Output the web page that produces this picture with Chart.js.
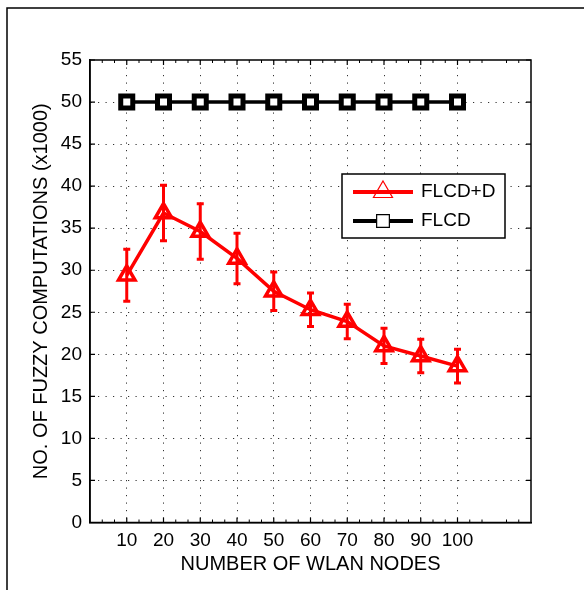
<!DOCTYPE html>
<html>
<head>
<meta charset="utf-8">
<script src="https://cdn.jsdelivr.net/npm/chart.js@4.4.1/dist/chart.umd.min.js"></script>
<style>
  html, body { margin: 0; padding: 0; background: #fff; }
  canvas { display: block; }
</style>
</head>
<body>
<canvas id="c" width="584" height="590"></canvas>
<script>
// ---- data ----
const nodes = [10, 20, 30, 40, 50, 60, 70, 80, 90, 100];
const flcdD = [29.4, 36.8, 34.6, 31.4, 27.5, 25.3, 23.9, 21.0, 19.8, 18.6];
const flcdDErr = [3.1, 3.3, 3.3, 3.0, 2.3, 2.0, 2.05, 2.1, 2.0, 2.0];
const flcd = [50, 50, 50, 50, 50, 50, 50, 50, 50, 50];
const xTicks = [10, 20, 30, 40, 50, 60, 70, 80, 90, 100];
const yTicks = [0, 5, 10, 15, 20, 25, 30, 35, 40, 45, 50, 55];
const seriesLabels = ['FLCD+D', 'FLCD'];
const xTitle = 'NUMBER OF WLAN NODES';
const yTitle = 'NO. OF FUZZY COMPUTATIONS (x1000)';

const FONT = "'Liberation Sans', Arial, Helvetica, sans-serif";
const RED = '#ff0000';

// error bar segments built from the arrays
const errSegments = [];
const errCaps = [];
nodes.forEach((x, i) => {
  const lo = flcdD[i] - flcdDErr[i], hi = flcdD[i] + flcdDErr[i];
  errSegments.push({x, y: lo}, {x, y: hi}, {x, y: null});
  errCaps.push({x, y: lo}, {x, y: hi});
});

const framePlugin = {
  id: 'frame',
  beforeDraw(chart) {
    const ctx = chart.ctx;
    ctx.save();
    ctx.fillStyle = '#fff';
    ctx.fillRect(0, 0, chart.width, chart.height);
    ctx.strokeStyle = '#000';
    ctx.lineWidth = 1.5;
    ctx.beginPath();
    ctx.moveTo(7, chart.height);
    ctx.lineTo(7, 8);
    ctx.lineTo(chart.width, 8);
    ctx.stroke();
    ctx.restore();
  },
  afterDraw(chart) {
    const ctx = chart.ctx;
    const {left, right, top, bottom} = chart.chartArea;
    const xs = chart.scales.x, ys = chart.scales.y;
    ctx.save();
    ctx.setLineDash([]);
    ctx.strokeStyle = '#000';
    ctx.lineWidth = 1.2;
    ctx.beginPath();
    // major ticks inward
    xTicks.forEach(v => {
      const px = xs.getPixelForValue(v);
      ctx.moveTo(px, bottom); ctx.lineTo(px, bottom - 5);
      ctx.moveTo(px, top); ctx.lineTo(px, top + 5);
    });
    yTicks.forEach(v => {
      const py = ys.getPixelForValue(v);
      ctx.moveTo(left, py); ctx.lineTo(left + 5, py);
      ctx.moveTo(right, py); ctx.lineTo(right - 5, py);
    });
    ctx.stroke();
    // minor ticks on x
    ctx.lineWidth = 1;
    ctx.beginPath();
    for (let k = 1; k < 36; k++) {
      if (k % 3 === 0) continue;
      const px = xs.getPixelForValue(k * 10 / 3);
      ctx.moveTo(px, bottom); ctx.lineTo(px, bottom - 3);
      ctx.moveTo(px, top); ctx.lineTo(px, top + 3);
    }
    ctx.stroke();
    // plot box
    ctx.lineWidth = 1.5;
    ctx.strokeRect(left, top, right - left, bottom - top);

    // legend
    const bx = 342, by = 174, bw = 163, bh = 64;
    ctx.fillStyle = '#fff';
    ctx.fillRect(bx, by, bw, bh);
    ctx.lineWidth = 1.5;
    ctx.strokeStyle = '#000';
    ctx.strokeRect(bx, by, bw, bh);
    const rows = [
      {y: 192, color: RED, style: 'triangle', radius: 11, label: chart.data.datasets[0].label},
      {y: 221, color: '#000', style: 'rect', radius: 9, label: chart.data.datasets[1].label}
    ];
    rows.forEach(r => {
      ctx.strokeStyle = r.color;
      ctx.lineWidth = 4;
      ctx.beginPath();
      ctx.moveTo(353, r.y); ctx.lineTo(413, r.y);
      ctx.stroke();
      ctx.fillStyle = r.style === 'rect' ? '#fff' : 'rgba(0,0,0,0)';
      ctx.strokeStyle = r.color;
      ctx.lineWidth = 1.2;
      Chart.helpers.drawPoint(ctx, {pointStyle: r.style, radius: r.radius, rotation: 0, borderWidth: 1.2}, 383, r.y);
      ctx.fillStyle = '#000';
      ctx.font = '19px ' + FONT;
      ctx.textBaseline = 'middle';
      ctx.textAlign = 'left';
      ctx.fillText(r.label, 421, r.y);
    });
    ctx.restore();
  }
};

const gridOpts = {
  color: (c) => (c.tick && (c.tick.value === 0 || c.tick.value === 55 || c.tick.value === 120)) ? 'rgba(0,0,0,0)' : 'rgba(0,0,0,0.8)',
  lineWidth: 1,
  drawTicks: false
};

new Chart(document.getElementById('c'), {
  type: 'line',
  data: {
    datasets: [
      {
        label: seriesLabels[0],
        data: nodes.map((x, i) => ({x, y: flcdD[i]})),
        borderColor: RED,
        borderWidth: 3.5,
        pointStyle: 'triangle',
        pointRadius: 9.5,
        pointBorderWidth: 3.5,
        pointBorderColor: RED,
        pointBackgroundColor: 'rgba(0,0,0,0)',
        tension: 0,
        order: 1
      },
      {
        label: seriesLabels[1],
        data: nodes.map((x, i) => ({x, y: flcd[i]})),
        borderColor: '#000',
        borderWidth: 3.5,
        pointStyle: 'rect',
        pointRadius: 8.5,
        pointBorderWidth: 5,
        pointBorderColor: '#000',
        pointBackgroundColor: '#fff',
        tension: 0,
        order: 1
      },
      {
        label: 'err',
        data: errSegments,
        borderColor: RED,
        borderWidth: 3,
        pointRadius: 0,
        spanGaps: false,
        order: 2
      },
      {
        label: 'caps',
        data: errCaps,
        showLine: false,
        pointStyle: 'line',
        pointRadius: 3.5,
        pointBorderWidth: 3,
        pointBorderColor: RED,
        order: 2
      }
    ]
  },
  options: {
    responsive: false,
    animation: false,
    devicePixelRatio: 1,
    layout: { padding: { left: 0, right: 53, top: 60, bottom: 0 } },
    plugins: { legend: { display: false }, tooltip: { enabled: false } },
    font: { family: FONT },
    scales: {
      x: {
        type: 'linear',
        min: 0, max: 120,
        afterBuildTicks: (s) => { s.ticks = xTicks.map(v => ({value: v})); },
        afterFit: (s) => { s.height = 67.5; },
        ticks: { autoSkip: false, maxRotation: 0, padding: 7, color: '#000', font: { family: FONT, size: 19 },
                 callback: (v) => String(v) },
        grid: gridOpts,
        border: { display: true, color: '#000', width: 1.5, dash: [1.2, 6.3] },
        title: { display: true, text: xTitle, color: '#000', font: { family: FONT, size: 20 }, padding: { top: 0, bottom: 14 } }
      },
      y: {
        type: 'linear',
        min: 0, max: 55,
        afterBuildTicks: (s) => { s.ticks = yTicks.map(v => ({value: v})); },
        afterFit: (s) => { s.width = 90; },
        ticks: { autoSkip: false, padding: 8, color: '#000', font: { family: FONT, size: 19 } },
        grid: gridOpts,
        border: { display: true, color: '#000', width: 1.5, dash: [1.2, 6.3] },
        title: { display: true, text: yTitle, color: '#000', font: { family: FONT, size: 20 }, padding: { top: 29, bottom: 0 } }
      }
    }
  },
  plugins: [framePlugin]
});
</script>
</body>
</html>
